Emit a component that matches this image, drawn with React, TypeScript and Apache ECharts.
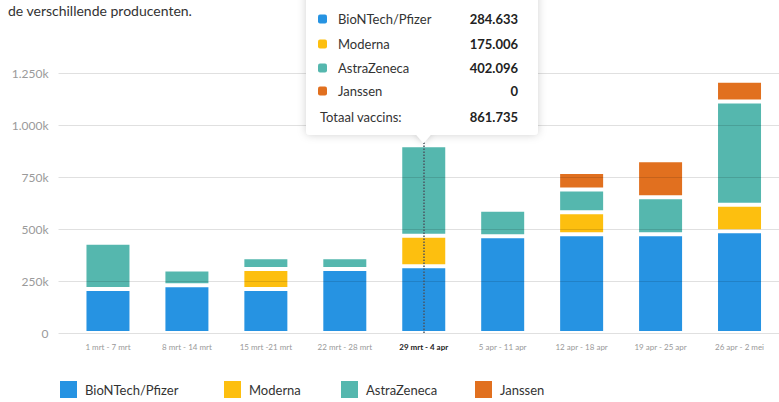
import React, { useEffect, useRef } from "react";
import * as echarts from "echarts";

const categories = [
  "1 mrt - 7 mrt",
  "8 mrt - 14 mrt",
  "15 mrt -21 mrt",
  "22 mrt - 28 mrt",
  "29 mrt - 4 apr",
  "5 apr - 11 apr",
  "12 apr - 18 apr",
  "19 apr - 25 apr",
  "26 apr - 2 mei",
];

const seriesNames = ["BioNTech/Pfizer", "Moderna", "AstraZeneca", "Janssen"];
const seriesColors = ["#2693e2", "#fdbf0f", "#55b7ae", "#e1701f"];

const pfizer = [212000, 229000, 212000, 308000, 321000, 465000, 475000, 475000, 489000];
const moderna = [0, 0, 96000, 0, 147000, 0, 105000, 0, 128000];
const astraZeneca = [222000, 76000, 56000, 56000, 435000, 128000, 110000, 178000, 496000];
const janssen = [0, 0, 0, 0, 0, 0, 84000, 178000, 100000];

const yTicks = [0, 250000, 500000, 750000, 1000000, 1250000];

const highlightIndex = 4;
const tooltipValues = [284633, 175006, 402096, 0];
const tooltipTotalLabel = "Totaal vaccins:";

const subtitle = "de verschillende producenten.";

const FONT = "Lato, 'Noto Sans', sans-serif";

function groupDots(n: number): string {
  const s = Math.round(n).toString();
  return s.replace(/\B(?=(\d{3})+(?!\d))/g, ".");
}

function yLabel(v: number): string {
  if (v === 0) return "0";
  return groupDots(v / 1000) + "k";
}

export default function App() {
  const ref = useRef<HTMLDivElement>(null);

  useEffect(() => {
    document.body.style.margin = "0";
    if (!ref.current) return;
    const chart = echarts.init(ref.current, undefined, { renderer: "svg" });

    const allSeries = [pfizer, moderna, astraZeneca, janssen];
    const total = tooltipValues.reduce((a, b) => a + b, 0);

    const tipLeft = 306;
    const tipRight = 538;
    const tipBottom = 135;
    const tipMid = 423.5;
    const rowY = [19, 44, 68, 91];
    const Z = 100;

    const tipChildren: any[] = [
      {
        type: "polygon",
        z: Z,
        shape: { points: [[tipMid - 9, tipBottom - 2], [tipMid + 9, tipBottom - 2], [tipMid, tipBottom + 8]] },
        style: { fill: "#fff", shadowBlur: 6, shadowColor: "rgba(0,0,0,0.18)" },
      },
      {
        type: "rect",
        z: Z + 1,
        shape: { x: tipLeft, y: -20, width: tipRight - tipLeft, height: tipBottom + 20, r: 4 },
        style: { fill: "#fff", shadowBlur: 8, shadowColor: "rgba(0,0,0,0.18)" },
      },
      {
        type: "polygon",
        z: Z + 2,
        shape: { points: [[tipMid - 9, tipBottom - 2], [tipMid + 9, tipBottom - 2], [tipMid, tipBottom + 8]] },
        style: { fill: "#fff" },
      },
    ];
    seriesNames.forEach((name, i) => {
      tipChildren.push({
        type: "rect",
        z: Z + 3,
        shape: { x: 318, y: rowY[i] - 4.5, width: 9, height: 9, r: 2 },
        style: { fill: seriesColors[i] },
      });
      tipChildren.push({
        type: "text",
        z: Z + 3,
        x: 338,
        y: rowY[i],
        style: { text: name, fill: "#333", font: `13px ${FONT}`, textVerticalAlign: "middle", textAlign: "left" },
      });
      tipChildren.push({
        type: "text",
        z: Z + 3,
        x: 518,
        y: rowY[i],
        style: {
          text: groupDots(tooltipValues[i]),
          fill: "#222",
          font: `bold 13px ${FONT}`,
          textVerticalAlign: "middle",
          textAlign: "right",
        },
      });
    });
    tipChildren.push({
      type: "text",
      z: Z + 3,
      x: 320,
      y: 117,
      style: { text: tooltipTotalLabel, fill: "#333", font: `13px ${FONT}`, textVerticalAlign: "middle", textAlign: "left" },
    });
    tipChildren.push({
      type: "text",
      z: Z + 3,
      x: 518,
      y: 117,
      style: {
        text: groupDots(total),
        fill: "#222",
        font: `bold 13px ${FONT}`,
        textVerticalAlign: "middle",
        textAlign: "right",
      },
    });

    const legendLefts = [58, 222, 339, 473];

    const option: any = {
      animation: false,
      textStyle: { fontFamily: FONT },
      grid: { left: 68.5, right: 0, top: 73, bottom: 69, containLabel: false },
      legend: seriesNames.map((n, i) => ({
        data: [n],
        left: legendLefts[i],
        top: 379,
        padding: 0,
        itemWidth: 19,
        itemHeight: 19,
        icon: "rect",
        selectedMode: false,
        textStyle: { fontSize: 13, color: "#333", fontFamily: FONT, padding: [0, 0, 0, 2] },
      })),
      xAxis: {
        type: "category",
        data: categories.map((c, i) =>
          i === highlightIndex ? { value: c, textStyle: { fontWeight: "bold", color: "#222" } } : c
        ),
        axisLine: { show: false },
        axisTick: { show: false },
        axisLabel: { fontSize: 8, color: "#999", margin: 10, interval: 0, fontFamily: FONT },
      },
      yAxis: {
        type: "value",
        min: 0,
        max: 1250000,
        interval: 250000,
        z: 5,
        axisLine: { show: false },
        axisTick: { show: true, length: 10, lineStyle: { color: "rgba(0,0,0,0.12)" } },
        splitLine: { lineStyle: { color: "rgba(0,0,0,0.12)", width: 1 } },
        axisLabel: {
          fontSize: 12,
          color: "#9a9a9a",
          margin: 20,
          fontFamily: FONT,
          formatter: (v: number) => (yTicks.includes(v) ? yLabel(v) : ""),
        },
      },
      series: allSeries.map((d, i) => ({
        name: seriesNames[i],
        type: "bar",
        stack: "total",
        barWidth: 47,
        data: d.map((v) => (v === 0 ? null : v)),
        itemStyle: { color: seriesColors[i], borderColor: "#fff", borderWidth: 2 },
        ...(i === allSeries.length - 1
          ? {
              markLine: {
                silent: true,
                symbol: "none",
                label: { show: false },
                lineStyle: { type: "dotted", color: "#4a5560", width: 1.5 },
                data: [{ xAxis: highlightIndex }],
              },
            }
          : {}),
      })),
      graphic: [
        {
          type: "text",
          left: 8,
          top: 3,
          style: { text: subtitle, fill: "#333", font: `14px ${FONT}` },
        },
        { type: "group", z: Z, children: tipChildren },
      ],
    };

    chart.setOption(option);
    return () => chart.dispose();
  }, []);

  return (
    <div
      ref={ref}
      style={{ position: "absolute", left: 0, top: 0, width: 779, height: 402 }}
    />
  );
}
